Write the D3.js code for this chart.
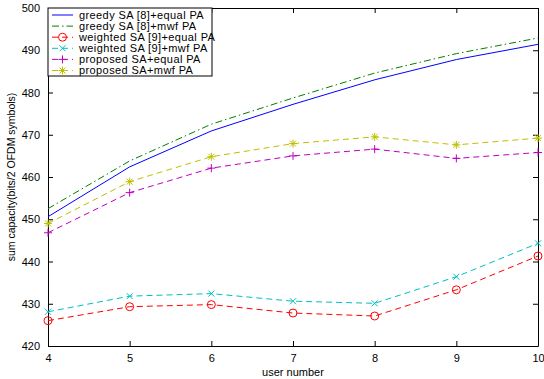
<!DOCTYPE html>
<html>
<head>
<meta charset="utf-8">
<script src="https://cdn.jsdelivr.net/npm/d3@7"></script>
<style>
body { margin: 0; background: #fff; }
text { font-family: "Liberation Sans", Arial, sans-serif; }
</style>
</head>
<body>
<div class="chart"></div>
<script>
var svgWidth = 544;
var svgHeight = 379;

var margin = { top: 8, right: 6, bottom: 33, left: 48 };

var width = svgWidth - margin.left - margin.right;
var height = svgHeight - margin.top - margin.bottom;

// data
var users = [4, 5, 6, 7, 8, 9, 10];
var greedyEqual = [450.6, 462.4, 470.9, 477.2, 483.0, 487.8, 491.4];
var greedyMwf = [452.5, 463.8, 472.5, 478.7, 484.6, 489.2, 492.9];
var weightedEqual = [426.0, 429.3, 429.8, 427.8, 427.1, 433.3, 441.3];
var weightedMwf = [428.1, 431.8, 432.4, 430.6, 430.1, 436.4, 444.3];
var proposedEqual = [446.8, 456.3, 462.1, 465.0, 466.6, 464.4, 465.8];
var proposedMwf = [449.0, 458.9, 464.8, 467.9, 469.5, 467.6, 469.2];
var yTicks = [420, 430, 440, 450, 460, 470, 480, 490, 500];

var series = [
  { name: "greedy SA [8]+equal PA", values: greedyEqual, color: "#0000ff", dash: null, marker: "none" },
  { name: "greedy SA [8]+mwf PA", values: greedyMwf, color: "#008000", dash: "7,3,1.5,3", marker: "none" },
  { name: "weighted SA [9]+equal PA", values: weightedEqual, color: "#ff0000", dash: "6,4", marker: "circle" },
  { name: "weighted SA [9]+mwf PA", values: weightedMwf, color: "#00bfbf", dash: "6,4", marker: "x" },
  { name: "proposed SA+equal PA", values: proposedEqual, color: "#bf00bf", dash: "6,4", marker: "plus" },
  { name: "proposed SA+mwf PA", values: proposedMwf, color: "#bfbf00", dash: "6,4", marker: "star" }
];

var svg = d3.select(".chart")
  .append("svg")
  .attr("width", svgWidth)
  .attr("height", svgHeight);

var chartGroup = svg.append("g")
  .attr("transform", `translate(${margin.left}, ${margin.top})`);

var xScale = d3.scaleLinear().domain([4, 10]).range([0, width]);
var yScale = d3.scaleLinear().domain([420, 500]).range([height, 0]);

// axes, matlab style ticks pointing inward
var bottomAxis = d3.axisBottom(xScale).tickValues(users).tickFormat(d3.format("d"))
  .tickSizeInner(-5).tickSizeOuter(0).tickPadding(8);
var leftAxis = d3.axisLeft(yScale).tickValues(yTicks).tickFormat(d3.format("d"))
  .tickSizeInner(-5).tickSizeOuter(0).tickPadding(8);
var topAxis = d3.axisTop(xScale).tickValues(users).tickSizeInner(-5).tickSizeOuter(0).tickFormat("");
var rightAxis = d3.axisRight(yScale).tickValues(yTicks).tickSizeInner(-5).tickSizeOuter(0).tickFormat("");

function styleAxis(g) {
  g.selectAll("path").attr("stroke", "#000").attr("stroke-width", 1);
  g.selectAll("line").attr("stroke", "#000");
  g.selectAll("text").attr("font-size", 11).attr("fill", "#000")
    .style("font-family", "Liberation Sans, Arial, sans-serif");
}

chartGroup.append("g").attr("transform", `translate(0, ${height})`).call(bottomAxis).call(styleAxis);
chartGroup.append("g").call(leftAxis).call(styleAxis);
chartGroup.append("g").call(topAxis).call(styleAxis);
chartGroup.append("g").attr("transform", `translate(${width}, 0)`).call(rightAxis).call(styleAxis);

var line = d3.line()
  .x((d, i) => xScale(users[i]))
  .y(d => yScale(d));

function drawMarker(g, type, color, x, y) {
  var s = 4;
  if (type === "circle") {
    g.append("circle").attr("cx", x).attr("cy", y).attr("r", s)
      .attr("fill", "none").attr("stroke", color);
  } else if (type === "x") {
    g.append("path").attr("d", `M${x - 3},${y - 3}L${x + 3},${y + 3}M${x - 3},${y + 3}L${x + 3},${y - 3}`)
      .attr("stroke", color);
  } else if (type === "plus") {
    g.append("path").attr("d", `M${x - s},${y}L${x + s},${y}M${x},${y - s}L${x},${y + s}`)
      .attr("stroke", color);
  } else if (type === "star") {
    g.append("path").attr("d", `M${x - s},${y}L${x + s},${y}M${x},${y - s}L${x},${y + s}` +
      `M${x - 3},${y - 3}L${x + 3},${y + 3}M${x - 3},${y + 3}L${x + 3},${y - 3}`)
      .attr("stroke", color);
  }
}

series.forEach(function(s) {
  var g = chartGroup.append("g");
  g.append("path")
    .datum(s.values)
    .attr("d", line)
    .attr("fill", "none")
    .attr("stroke", s.color)
    .attr("stroke-width", 1)
    .attr("stroke-dasharray", s.dash);
  s.values.forEach(function(v, i) {
    drawMarker(g, s.marker, s.color, xScale(users[i]), yScale(v));
  });
});

// legend
var legend = chartGroup.append("g");
legend.append("rect")
  .attr("x", 0).attr("y", 0)
  .attr("width", 164).attr("height", 68)
  .attr("fill", "#fff").attr("stroke", "#000");

series.forEach(function(s, i) {
  var y = 7 + i * 11.1;
  legend.append("line")
    .attr("x1", 4).attr("x2", 25).attr("y1", y).attr("y2", y)
    .attr("stroke", s.color)
    .attr("stroke-dasharray", s.dash);
  drawMarker(legend, s.marker, s.color, 14.5, y);
  legend.append("text")
    .attr("x", 31).attr("y", y + 3.8)
    .attr("font-size", 11)
    .attr("letter-spacing", 0.4)
    .text(s.name);
});

// axis labels
svg.append("text")
  .attr("x", margin.left + width / 2)
  .attr("y", 376)
  .attr("text-anchor", "middle")
  .attr("font-size", 11)
  .text("user number");

svg.append("text")
  .attr("transform", `translate(15, ${margin.top + height / 2}) rotate(-90)`)
  .attr("text-anchor", "middle")
  .attr("font-size", 10.5)
  .text("sum capacity(bits/2 OFDM symbols)");
</script>
</body>
</html>
